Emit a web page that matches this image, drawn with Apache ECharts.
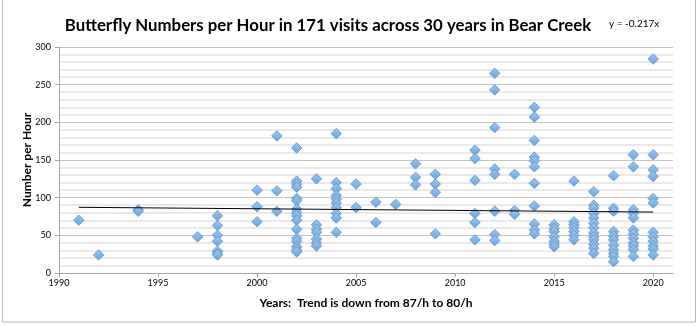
<!DOCTYPE html>
<html><head><meta charset="utf-8">
<script src="https://cdn.jsdelivr.net/npm/echarts@6/dist/echarts.min.js"></script>
<style>html,body{margin:0;padding:0;background:#fff}#c{width:699px;height:326px}</style>
</head><body><div id="c"></div>
<script>
const years = [1991,1992,1994,1997,1998,2000,2001,2002,2003,2004,2005,2006,2007,2008,2009,2011,2012,2013,2014,2015,2016,2017,2018,2019,2020];
const visits = [
  [70],
  [24],
  [84,82],
  [48],
  [76,63,50,42,29,26,24],
  [110,88,68],
  [182,109,82],
  [166,122,118,114,99,96,85,80,76,70,58,46,42,35,31,28],
  [125,64,58,54,45,40,36],
  [185,120,112,103,98,93,87,79,73,54],
  [118,87],
  [94,67],
  [91],
  [145,127,117],
  [131,118,107,52],
  [163,152,123,79,67,44],
  [265,243,193,138,131,82,51,43],
  [131,83,78],
  [220,207,176,154,149,141,119,89,65,57,52],
  [64,59,55,48,42,38,35],
  [122,68,64,60,55,50,44],
  [108,90,86,79,73,66,60,53,48,44,38,33,26],
  [129,86,82,55,49,44,37,31,26,22,15],
  [157,141,84,79,73,57,52,46,40,36,31,22],
  [284,157,137,128,99,93,54,48,42,36,32,24]
];
const trendYears = [1991, 2020];
const trendValues = [87.2, 80.9];
const xTicks = [1990,1995,2000,2005,2010,2015,2020];
const yTicks = [0,50,100,150,200,250,300];

const points = [];
years.forEach((y,i)=>visits[i].forEach(v=>points.push([y,v])));
const trend = trendYears.map((y,i)=>[y,trendValues[i]]);

const chart = echarts.init(document.getElementById('c'), null, {renderer:'canvas'});
const FONT = 'Lato, "Open Sans", sans-serif';
chart.setOption({
  animation:false,
  backgroundColor:'#fff',
  title:{
    text:'Butterfly Numbers per Hour in 171 visits across 30 years in Bear Creek',
    left:323, top:12, textAlign:'center',
    textStyle:{fontFamily:FONT, fontWeight:'bold', fontSize:16.8, color:'#000'}
  },
  graphic:[
    {type:'rect', shape:{x:2.5,y:-1,width:693,height:323}, style:{fill:'none', stroke:'#b8b8b8', lineWidth:1}, silent:true},
    {type:'text', left:609, top:19, style:{text:'y = -0.217x', fontFamily:FONT, fontSize:10, fill:'#000'}}
  ],
  grid:{left:59, right:26, top:47, bottom:53},
  xAxis:{
    type:'value', min:xTicks[0], max:2021, interval:5,
    name:'Years:  Trend is down from 87/h to 80/h', nameLocation:'middle', nameGap:24,
    nameTextStyle:{fontFamily:FONT, fontWeight:'bold', fontSize:12, color:'#000'},
    axisLine:{show:true, lineStyle:{color:'#a6a6a6', width:1}},
    axisTick:{show:true, length:4, lineStyle:{color:'#a6a6a6'}},
    axisLabel:{fontFamily:FONT, fontSize:9, color:'#000', margin:6, showMaxLabel:false,
      formatter:v=> xTicks.includes(v) ? String(v) : ''},
    splitLine:{show:false}
  },
  yAxis:{
    type:'value', min:yTicks[0], max:yTicks[yTicks.length-1], interval:50,
    name:'Number per Hour', nameLocation:'middle', nameGap:26, nameRotate:90, nameMoveOverlap:false,
    nameTextStyle:{fontFamily:FONT, fontWeight:'bold', fontSize:12, color:'#000'},
    axisLine:{show:true, lineStyle:{color:'#a6a6a6', width:1}},
    axisTick:{show:true, length:4, lineStyle:{color:'#a6a6a6'}},
    axisLabel:{fontFamily:FONT, fontSize:9, color:'#000', margin:8},
    splitLine:{show:true, lineStyle:{color:'#c4c4c4', width:1}},
    minorTick:{show:false, splitNumber:5},
    minorSplitLine:{show:true, lineStyle:{color:'#e2e2e2', width:1.5}}
  },
  series:[
    {type:'scatter', data:points, symbol:'diamond', symbolSize:10.5, z:3,
      itemStyle:{color:new echarts.graphic.LinearGradient(0,0,0,1,[{offset:0,color:'#9ec8ef'},{offset:1,color:'#6aa3db'}]),
        borderColor:'#5b93cf', borderWidth:0.8, opacity:1}},
    {type:'line', data:trend, symbol:'none', z:4,
      lineStyle:{color:'#000', width:1}}
  ]
});
</script></body></html>
